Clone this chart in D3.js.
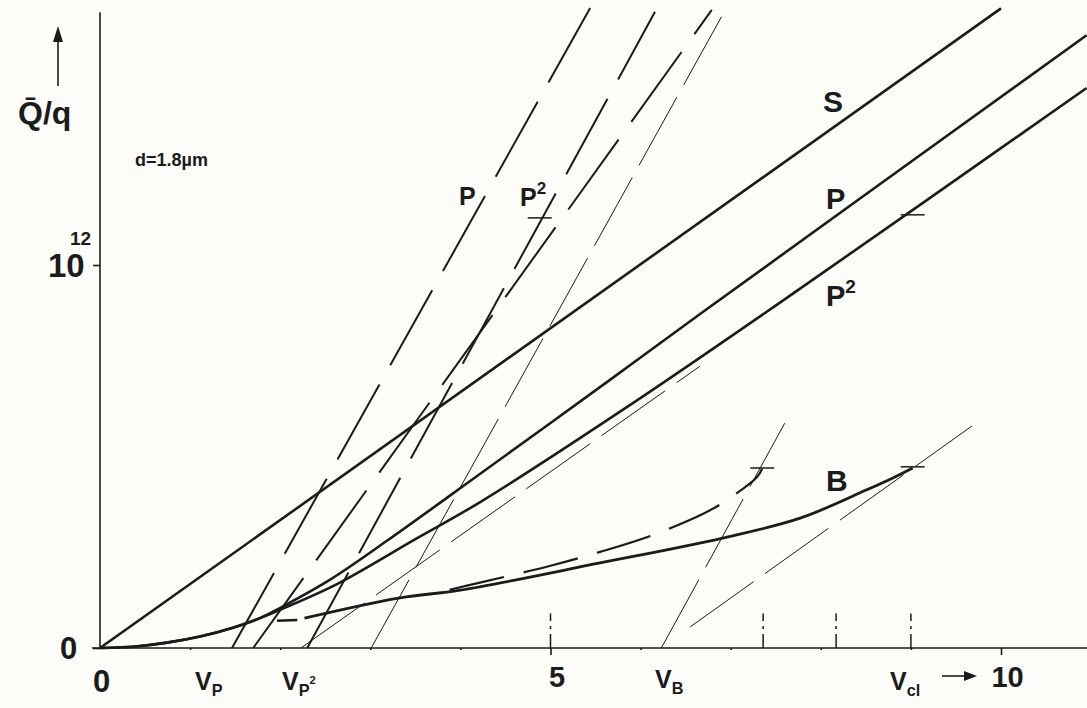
<!DOCTYPE html>
<html>
<head>
<meta charset="UTF-8">
<title>Q/q against Vcl</title>
<script src="https://cdn.jsdelivr.net/npm/d3@7"></script>
<style>
  body { margin: 0; background: #fcfcf8; }
  svg { display: block; font-family: "Liberation Sans", Arial, sans-serif; font-weight: bold; }
</style>
</head>
<body>
<svg width="1087" height="708"></svg>
<script>
// x in volts, y in units of 10^12
const curveS   = [[0, 0], [10, 1.67]];
const curveP   = [[0, 0], [0.39, 0.004], [0.744, 0.014], [1.11, 0.030], [1.476, 0.053], [1.776, 0.078],
                  [2.0, 0.105], [2.55, 0.178], [3.185, 0.280], [4.22, 0.455], [5.66, 0.70], [6.66, 0.872], [10.95, 1.60]];
const curveP2  = [[0, 0], [0.39, 0.004], [0.744, 0.014], [1.11, 0.030], [1.476, 0.053], [1.776, 0.078],
                  [2.0, 0.100], [2.63, 0.167], [3.52, 0.287], [4.22, 0.381], [5.88, 0.634], [7.75, 0.935], [10.95, 1.462]];
const curveB   = [[2.27, 0.078], [3.33, 0.131], [4.0, 0.151], [5.55, 0.222], [6.91, 0.287],
                  [7.77, 0.339], [8.51, 0.413], [8.80, 0.444], [9.02, 0.470]];
const curveBdash = [[3.88, 0.152], [4.24, 0.172], [4.99, 0.214], [5.55, 0.251], [6.10, 0.292],
                    [6.69, 0.350], [6.91, 0.379], [7.29, 0.446], [7.35, 0.468]];
const shortDash = [[1.965, 0.071], [2.19, 0.073]];

// straight construction lines [start, end]
const thickDashed = [
  [[1.465, 0], [5.44, 1.671]],
  [[2.30, 0], [6.16, 1.661]],
  [[1.70, 0], [6.79, 1.666]]
];
const thinDashed = [
  [[3.01, 0], [6.94, 1.666]],
  [[2.23, 0], [6.66, 0.736]],
  [[6.23, 0], [7.60, 0.587]],
  [[6.55, 0.055], [9.68, 0.580]]
];
const crossMarks = [[4.88, 1.123], [9.02, 1.131], [7.35, 0.470], [9.02, 0.473]];
const axisMarks = [5.0, 7.36, 8.17, 9.0];

const xTicks = [1, 2, 3, 4, 5, 6, 7, 8, 9, 10];
const xTickLabels = [5, 10];
const yTicks = [0, 1];

const svg = d3.select("svg");
const ink = "#1b1b1b";

const x = d3.scaleLinear().domain([0, 10]).range([100, 1001]);
const y = d3.scaleLinear().domain([0, 1]).range([648, 265]);

const line = d3.line().x(d => x(d[0])).y(d => y(d[1]));
const smooth = d3.line().x(d => x(d[0])).y(d => y(d[1])).curve(d3.curveCatmullRom.alpha(0.5));

// axes
const xAxis = d3.axisBottom(x).tickValues(xTicks).tickSize(3).tickPadding(15)
  .tickFormat(d => xTickLabels.includes(d) ? d : "");
const gx = svg.append("g").attr("transform", `translate(0,${y(0)})`).call(xAxis);
gx.select(".domain").attr("d", `M92,0H1087`);
gx.selectAll(".tick line").attr("y2", d => xTickLabels.includes(d) ? 7 : 2);
gx.selectAll("text").attr("font-size", 29).attr("font-family", "Liberation Sans, Arial").attr("font-weight", "bold")
  .attr("dx", 6);
gx.selectAll("path, line").attr("stroke", ink).attr("stroke-width", 1.6);
gx.selectAll("text").attr("fill", ink);

const yAxis = d3.axisLeft(y).tickValues(yTicks).tickSize(7).tickFormat("");
const gy = svg.append("g").attr("transform", `translate(${x(0)},0)`).call(yAxis);
gy.select(".domain").attr("d", `M0,${y(0)}V${y(1.66)}`);
gy.selectAll("path, line").attr("stroke", ink).attr("stroke-width", 1.6);

// vertical dashed markers above axis
svg.append("g").selectAll("line").data(axisMarks).join("line")
  .attr("x1", d => x(d)).attr("x2", d => x(d))
  .attr("y1", y(0)).attr("y2", y(0.09))
  .attr("stroke", ink).attr("stroke-width", 1.5).attr("stroke-dasharray", "14 5 3 5");

// construction lines
svg.append("g").selectAll("path").data(thickDashed).join("path")
  .attr("d", line).attr("fill", "none").attr("stroke", ink)
  .attr("stroke-width", 2).attr("stroke-dasharray", "86 22");
svg.append("g").selectAll("path").data(thinDashed).join("path")
  .attr("d", line).attr("fill", "none").attr("stroke", ink)
  .attr("stroke-width", 1).attr("stroke-dasharray", "78 14");

// main curves
svg.append("path").datum(curveS).attr("d", line)
  .attr("fill", "none").attr("stroke", ink).attr("stroke-width", 2.6);
svg.append("path").datum(curveP).attr("d", smooth)
  .attr("fill", "none").attr("stroke", ink).attr("stroke-width", 2.6);
svg.append("path").datum(curveP2).attr("d", smooth)
  .attr("fill", "none").attr("stroke", ink).attr("stroke-width", 2.6);
svg.append("path").datum(curveB).attr("d", smooth)
  .attr("fill", "none").attr("stroke", ink).attr("stroke-width", 2.8);
svg.append("path").datum(curveBdash).attr("d", smooth)
  .attr("fill", "none").attr("stroke", ink).attr("stroke-width", 2.2).attr("stroke-dasharray", "56 20");
svg.append("path").datum(shortDash).attr("d", line)
  .attr("fill", "none").attr("stroke", ink).attr("stroke-width", 2.4);

// cross marks
svg.append("g").selectAll("line").data(crossMarks).join("line")
  .attr("x1", d => x(d[0]) - 12).attr("x2", d => x(d[0]) + 12)
  .attr("y1", d => y(d[1])).attr("y2", d => y(d[1]))
  .attr("stroke", ink).attr("stroke-width", 1.5);

// text
const txt = (px, py, s, size) => svg.append("text").attr("x", px).attr("y", py)
  .attr("font-size", size).attr("fill", ink).text(s);

// y axis labels
txt(60, 659, "0", 31);
txt(48, 277, "10", 33);
txt(70, 245, "12", 19);
svg.append("text").attr("x", 18).attr("y", 124).attr("font-size", 32).attr("fill", ink).text("Q\u0304/q");
svg.append("line").attr("x1", 58).attr("x2", 58).attr("y1", 86).attr("y2", 38)
  .attr("stroke", ink).attr("stroke-width", 1.6);
svg.append("path").attr("d", "M58,26 L53,42 L63,42 Z").attr("fill", ink);
txt(135, 166, "d=1.8\u00b5m", 18);

// x axis labels
txt(93, 692, "0", 31);
const sub = (px, py, main, s, size, extra) => {
  const t = svg.append("text").attr("x", px).attr("y", py).attr("font-size", size).attr("fill", ink);
  t.append("tspan").text(main);
  t.append("tspan").attr("dy", 6).attr("font-size", size * 0.65).text(s);
  if (extra) t.append("tspan").attr("dy", -12).attr("font-size", size * 0.45).text(extra);
  return t;
};
sub(195, 690, "V", "P", 25);
sub(282, 690, "V", "P", 25, "2");
sub(655, 688, "V", "B", 25);
sub(890, 690, "V", "cl", 25);
svg.append("line").attr("x1", 942).attr("x2", 966).attr("y1", 676).attr("y2", 676)
  .attr("stroke", ink).attr("stroke-width", 1.6);
svg.append("path").attr("d", "M977,676 L964,671 L964,681 Z").attr("fill", ink);

// curve labels
txt(823, 112, "S", 30);
txt(826, 209, "P", 29);
const p2 = txt(826, 306, "P", 29);
p2.append("tspan").attr("dy", -13).attr("font-size", 19).text("2");
txt(826, 491, "B", 30);
txt(459, 205, "P", 25);
const p2u = txt(520, 206, "P", 25);
p2u.append("tspan").attr("dy", -12).attr("font-size", 17).text("2");
</script>
</body>
</html>
